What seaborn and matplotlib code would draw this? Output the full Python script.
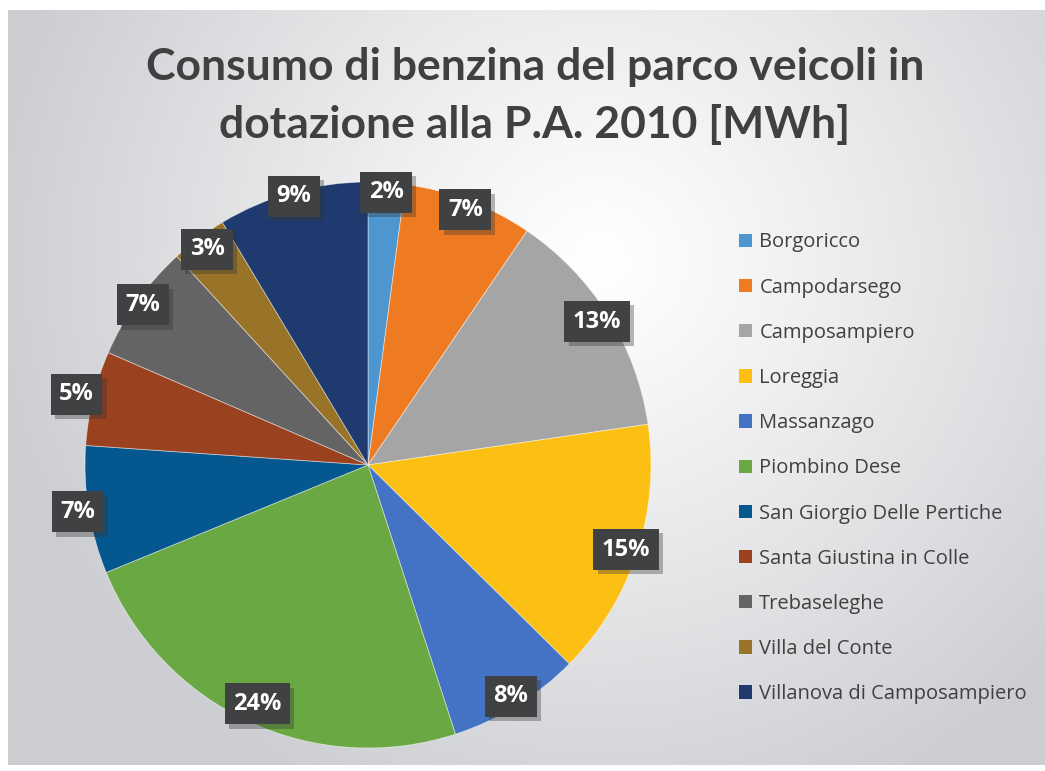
import matplotlib
matplotlib.use('Agg')
import matplotlib.pyplot as plt
import matplotlib.patheffects as pe
from matplotlib.patches import Patch
import seaborn as sns
import numpy as np

# Consumo di benzina per comune, quote in %
comuni = ['Borgoricco', 'Campodarsego', 'Camposampiero', 'Loreggia', 'Massanzago',
          'Piombino Dese', 'San Giorgio Delle Pertiche', 'Santa Giustina in Colle',
          'Trebaseleghe', 'Villa del Conte', 'Villanova di Camposampiero']
quote = [2.1, 7.4, 13.2, 14.7, 7.6, 23.8, 7.3, 5.4, 6.7, 3.2, 8.6]
colori = ['#4e96d0', '#ee7b22', '#a5a5a5', '#fcbf13', '#4472c4', '#69a843',
          '#05578f', '#9a4220', '#646464', '#997328', '#1f3a6e']
# distanza etichette dal centro (stile "adatta" di Excel)
dist_etichette = [0.965, 0.965, 0.955, 0.96, 0.96, 0.93, 1.04, 1.06, 0.975, 0.95, 0.985]
titolo = 'Consumo di benzina del parco veicoli in\ndotazione alla P.A. 2010 [MWh]'

sns.set_theme(style='white')
plt.rcParams['font.family'] = ['Open Sans', 'DejaVu Sans']

fig = plt.figure(figsize=(10.45, 7.71), dpi=100)
fig.patch.set_facecolor('white')

# sfondo con gradiente radiale
bg = fig.add_axes([8 / 1045, 1 - 765 / 771, 1037 / 1045, 755 / 771], zorder=0)
h, w = 300, 420
yy, xx = np.mgrid[0:h, 0:w]
d = np.sqrt(((xx - 0.57 * w) / w) ** 2 + ((yy - 0.33 * h) / h * 0.75) ** 2)
d = np.clip(d / 0.6, 0, 1)
light = np.array([1.0, 1.0, 1.0])
dark = np.array([0.80, 0.805, 0.82])
img = light + (dark - light) * d[..., None] ** 1.1
bg.imshow(img, aspect='auto', extent=[0, 1, 0, 1])
bg.axis('off')

ax = fig.add_axes([85 / 1045, 1 - 748 / 771, 566 / 1045, 566 / 771], zorder=1)
wedges, texts, autotexts = ax.pie(
    quote, colors=colori, startangle=90, counterclock=False,
    autopct='%.0f%%', pctdistance=0.97,
    wedgeprops=dict(linewidth=0.6, edgecolor=(1, 1, 1, 0.5)),
)
ax.set_xlim(-1.0, 1.0)
ax.set_ylim(-1.0, 1.0)
ax.set_aspect('equal')

for wd, t, r in zip(wedges, autotexts, dist_etichette):
    ang = np.deg2rad((wd.theta1 + wd.theta2) / 2)
    t.set_position((r * np.cos(ang), r * np.sin(ang)))
    t.set_color('white')
    t.set_fontsize(17)
    t.set_fontweight('bold')
    t.set_bbox(dict(boxstyle='square,pad=0.36', fc='#404142', ec='none', lw=0))
    t.get_bbox_patch().set_path_effects([
        pe.SimplePatchShadow(offset=(3, -3), alpha=0.35, shadow_rgbFace='#333333'),
        pe.Normal()])

fig.text(0.512, 0.875, titolo, ha='center', va='center', fontsize=32,
         fontweight='bold', color='#404040', linespacing=1.5,
         family=['Lato', 'DejaVu Sans'])

handles = [Patch(facecolor=c, edgecolor='none') for c in colori]
leg = fig.legend(handles, comuni, loc='upper left', bbox_to_anchor=(0.69, 0.722),
                 frameon=False, fontsize=14.5, labelspacing=1.25,
                 handlelength=0.65, handleheight=0.65, handletextpad=0.35,
                 labelcolor='#404040')

fig.savefig('out.png', dpi=100)
